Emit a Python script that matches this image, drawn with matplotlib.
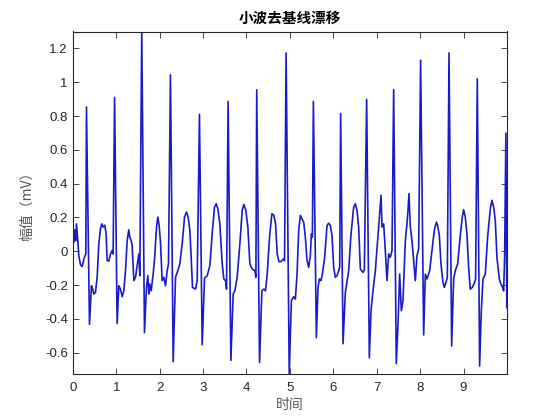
import matplotlib
matplotlib.use("Agg")
import matplotlib.pyplot as plt

plt.rcParams['font.family'] = ['Noto Sans CJK SC', 'DejaVu Sans']

title = "小波去基线漂移"
xlabel = "时间"
ylabel = "幅值（mV）"

# traced ECG signal (time in s, amplitude in mV)
t = [0.000, 0.023, 0.046, 0.069, 0.084, 0.115, 0.138, 0.177, 0.215, 0.238, 0.269, 0.300,
     0.315, 0.384, 0.430, 0.461, 0.484, 0.522, 0.561, 0.599, 0.637, 0.668, 0.699, 0.737,
     0.768, 0.791, 0.829, 0.868, 0.906, 0.929,
     0.962, 1.021, 1.060, 1.098, 1.137, 1.175, 1.214, 1.252, 1.290, 1.313, 1.344, 1.367,
     1.406, 1.444, 1.482, 1.521, 1.544,
     1.588, 1.651, 1.697, 1.728, 1.751, 1.774, 1.805, 1.851, 1.889, 1.928, 1.959, 1.989,
     2.020, 2.058, 2.097, 2.135, 2.174, 2.204,
     2.249, 2.312, 2.366, 2.419, 2.465, 2.519, 2.573, 2.619, 2.657, 2.696, 2.727, 2.757,
     2.826, 2.865,
     2.917, 2.980, 3.034, 3.095, 3.157, 3.210, 3.264, 3.303, 3.341, 3.387, 3.441, 3.479,
     3.518, 3.541,
     3.577, 3.641, 3.694, 3.733, 3.786, 3.848, 3.902, 3.940, 3.986, 4.032, 4.078, 4.132,
     4.194, 4.217,
     4.236, 4.301, 4.355, 4.401, 4.439, 4.478, 4.531, 4.585, 4.631, 4.670, 4.708, 4.747,
     4.800, 4.846, 4.877,
     4.913, 4.985, 5.034, 5.088, 5.126, 5.165, 5.203, 5.241, 5.280, 5.318, 5.356, 5.395,
     5.433, 5.471, 5.495, 5.518,
     5.541, 5.610, 5.648, 5.679, 5.717, 5.755, 5.801, 5.855, 5.894, 5.932, 5.970, 6.009,
     6.047, 6.085, 6.124, 6.147,
     6.169, 6.224, 6.277, 6.354, 6.408, 6.469, 6.508, 6.546, 6.584, 6.623, 6.684, 6.715,
     6.768, 6.830, 6.868, 6.914, 6.968, 7.022, 7.068, 7.099, 7.122, 7.160, 7.198, 7.237,
     7.275, 7.313, 7.352,
     7.390, 7.451, 7.490, 7.528, 7.567, 7.605, 7.659, 7.697, 7.720, 7.743, 7.774, 7.812,
     7.851, 7.889, 7.927, 7.966,
     8.011, 8.081, 8.119, 8.158, 8.219, 8.273, 8.326, 8.373, 8.403, 8.442, 8.480, 8.526,
     8.557, 8.595, 8.626,
     8.665, 8.726, 8.772, 8.810, 8.864, 8.925, 8.971, 9.002, 9.040, 9.078, 9.117, 9.155,
     9.201, 9.247, 9.278,
     9.316, 9.370, 9.409, 9.447, 9.501, 9.554, 9.616, 9.654, 9.693, 9.731, 9.769, 9.823,
     9.861, 9.900, 9.923, 9.946,
     9.975, 9.996]
v = [0.063, 0.053, 0.127, 0.063, 0.162, 0.063, -0.026, -0.079, -0.091, -0.065, -0.036, -0.016,
     0.853, -0.432, -0.204, -0.224, -0.253, -0.244, -0.154, 0.044, 0.133, 0.162, 0.143, 0.154,
     0.103, -0.055, -0.059, -0.016, 0.004, -0.016,
     0.910, -0.428, -0.204, -0.224, -0.269, -0.234, -0.115, 0.063, 0.127, 0.083, 0.063, 0.034,
     -0.174, -0.154, -0.085, -0.016, -0.145,
     1.300, -0.481, -0.214, -0.145, -0.253, -0.194, -0.234, -0.135, -0.026, 0.143, 0.202, 0.152,
     0.053, -0.174, -0.154, -0.204, -0.115, -0.075,
     1.043, -0.653, -0.154, -0.115, -0.075, 0.044, 0.202, 0.232, 0.202, 0.123, -0.036, -0.214,
     -0.224, -0.174,
     0.810, -0.554, -0.158, -0.145, -0.085, 0.103, 0.261, 0.281, 0.251, 0.162, -0.075, -0.164,
     -0.174, -0.224,
     0.886, -0.646, -0.253, -0.234, -0.154, 0.044, 0.242, 0.277, 0.242, 0.143, -0.075, -0.105,
     -0.115, -0.154,
     0.955, -0.659, -0.234, -0.224, -0.234, -0.135, 0.083, 0.222, 0.212, 0.162, -0.016, -0.061,
     -0.061, -0.046, -0.055,
     1.173, -0.725, -0.293, -0.269, -0.283, -0.135, 0.123, 0.212, 0.192, 0.172, 0.083, -0.055,
     -0.095, -0.026, 0.103, 0.083,
     0.886, -0.511, -0.214, -0.164, -0.174, -0.125, -0.036, 0.152, 0.166, 0.152, 0.093, -0.095,
     -0.154, -0.145, -0.115, -0.095,
     0.814, -0.547, -0.244, -0.115, 0.103, 0.261, 0.281, 0.242, 0.143, -0.105, -0.125, -0.111,
     0.898, -0.630, -0.352, -0.234, -0.115, 0.063, 0.222, 0.331, 0.143, 0.162, 0.004, -0.174,
     -0.016, -0.036, 0.004,
     0.955, -0.665, -0.432, -0.135, -0.352, -0.293, 0.063, 0.162, 0.242, 0.341, 0.143, 0.063,
     -0.055, -0.174, -0.026, 0.014,
     1.130, -0.495, -0.135, -0.164, -0.115, 0.004, 0.123, 0.172, 0.152, 0.093, -0.075, -0.184,
     -0.214, -0.184, -0.154,
     1.173, -0.560, -0.164, -0.115, -0.075, 0.093, 0.202, 0.246, 0.202, 0.103, -0.095, -0.224,
     -0.214, -0.190, -0.164,
     1.020, -0.679, -0.352, -0.164, -0.135, 0.083, 0.251, 0.301, 0.261, 0.182, -0.036, -0.164,
     -0.194, -0.214, -0.234, -0.036,
     0.698, -0.333]

xticks = list(range(0, 10))
yticks = [-0.6, -0.4, -0.2, 0, 0.2, 0.4, 0.6, 0.8, 1, 1.2]
yticklabels = ["-0.6", "-0.4", "-0.2", "0", "0.2", "0.4", "0.6", "0.8", "1", "1.2"]

fig = plt.figure(figsize=(5.6, 4.2), dpi=100)
ax = fig.add_axes([0.13, 0.11, 0.775, 0.815])
ax.plot(t, v, color=(0.1, 0.1, 0.78), linewidth=1.2, solid_joinstyle='round')
ax.set_xlim(0, 9.996)
ax.set_ylim(-0.725, 1.30)
ax.set_xticks(xticks)
ax.set_xticklabels([str(x) for x in xticks])
ax.set_yticks(yticks)
ax.set_yticklabels(yticklabels)

gray = '#262626'
for s in ax.spines.values():
    s.set_color(gray)
    s.set_linewidth(0.8)
ax.tick_params(direction='in', length=4.5, width=0.6, colors=gray, labelsize=9.5,
               top=True, right=True)
ax.tick_params(axis='x', pad=6)
for lab in ax.get_xticklabels() + ax.get_yticklabels():
    lab.set_family(['Liberation Sans', 'DejaVu Sans'])
ax.set_title(title, fontsize=10.5, fontweight='bold', color='black', pad=6)
ax.set_xlabel(xlabel, fontsize=10, color='#555555', labelpad=3)
ax.set_ylabel(ylabel, fontsize=10, color='#555555', labelpad=8)

fig.savefig("out.png", dpi=100, facecolor='white')
